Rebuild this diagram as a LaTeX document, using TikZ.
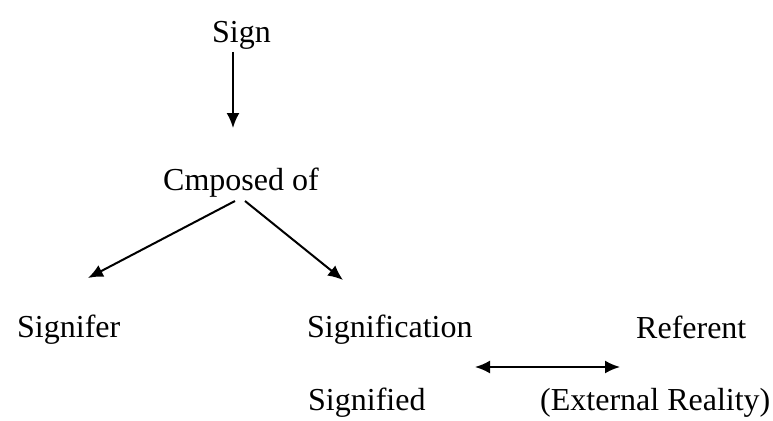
\documentclass[tikz,border=0pt]{standalone}
\usepackage{fontspec}
\setmainfont{Liberation Serif}
\usetikzlibrary{arrows.meta}
\begin{document}
\begin{tikzpicture}[x=1pt,y=-1pt,
  lbl/.style={inner sep=0pt,anchor=base west,font=\fontsize{32}{36}\selectfont},
  tip/.tip={Latex[length=15pt,width=13pt]},
  arr/.style={line width=2pt,-tip},
  darr/.style={line width=2pt,tip-tip}]
\useasboundingbox (0,0) rectangle (773,420);
\node[lbl] (sign) at (212,42) {Sign};
\node[lbl] (comp) at (163,190) {Cmposed of};
\node[lbl] (sigr) at (17,337) {Signifer};
\node[lbl] (sigc) at (307,337) {Signification};
\node[lbl] (ref) at (636,338) {Referent};
\node[lbl] (sigd) at (308,410) {Signified};
\node[lbl] (ext) at (540,410) {(External Reality)};
\coordinate (a1) at (233,52);
\coordinate (a2) at (233,128);
\coordinate (l1) at (235,201);
\coordinate (l2) at (88,278);
\coordinate (r1) at (245,201);
\coordinate (r2) at (343,280);
\coordinate (d1) at (475,367);
\coordinate (d2) at (620,367);
\draw[arr] (a1) -- (a2);
\draw[arr] (l1) -- (l2);
\draw[arr] (r1) -- (r2);
\draw[darr] (d1) -- (d2);
\end{tikzpicture}
\end{document}
